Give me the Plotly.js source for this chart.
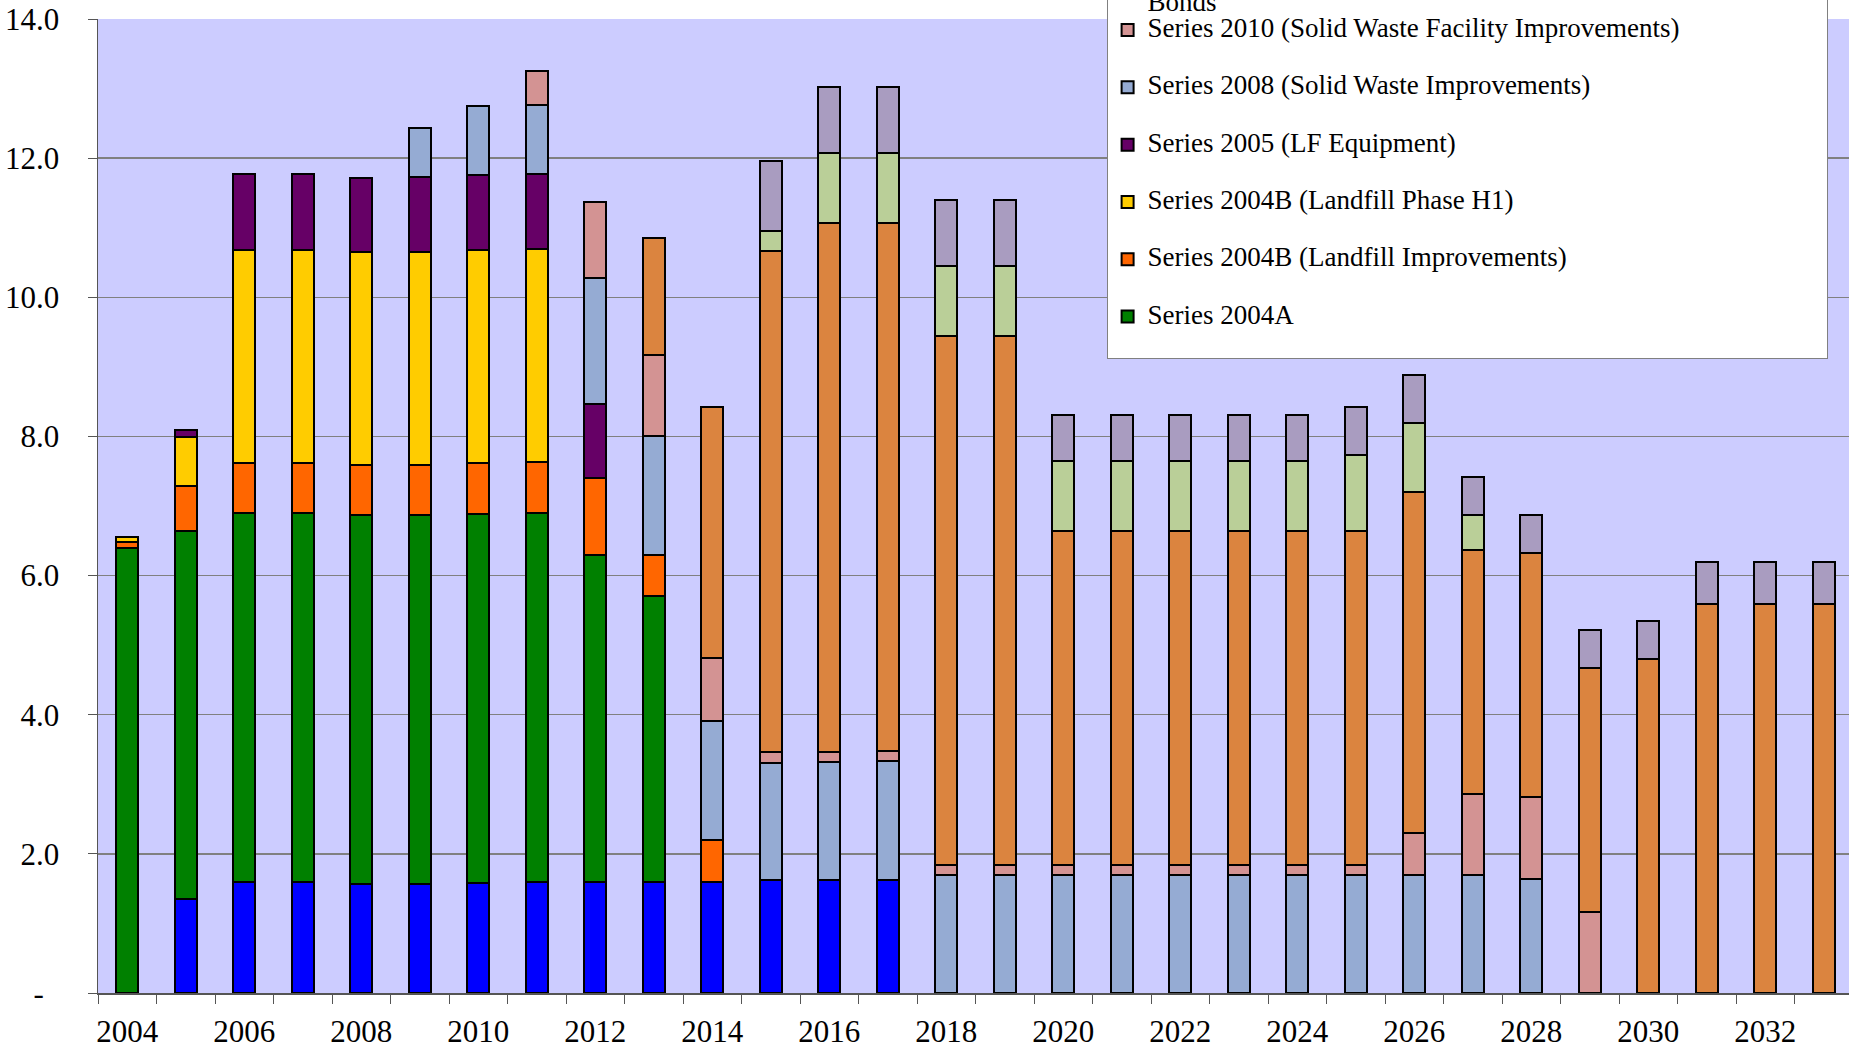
<!DOCTYPE html>
<html>
<head>
<meta charset="utf-8">
<script src="https://cdn.plot.ly/plotly-3.0.1.min.js"></script>
<style>
html,body{margin:0;padding:0;overflow:hidden;width:1849px;height:1049px;background:#ffffff}
#chart{position:absolute;left:0;top:-300px;width:1856px;height:1349px}
</style>
</head>
<body>
<div id="chart"></div>
<script>
// ---- data (values in millions) ----
const years = [2004,2005,2006,2007,2008,2009,2010,2011,2012,2013,2014,2015,2016,2017,2018,2019,
               2020,2021,2022,2023,2024,2025,2026,2027,2028,2029,2030,2031,2032,2033];
const xTickYears = [2004,2006,2008,2010,2012,2014,2016,2018,2020,2022,2024,2026,2028,2030,2032];
const yTickValues = [0,2,4,6,8,10,12,14];
const yTickLabels = ['-\u00a0\u00a0','2.0','4.0','6.0','8.0','10.0','12.0','14.0'];

const existingDebt = [null,1.35,1.59,1.59,1.565,1.57,1.58,1.59,1.60,1.595,1.60,1.62,1.62,1.63,
                      null,null,null,null,null,null,null,null,null,null,null,null,null,null,null,null];
const series2004A = [6.40,5.295,5.305,5.305,5.30,5.30,5.30,5.305,4.70,4.105,
                     null,null,null,null,null,null,null,null,null,null,null,null,null,null,null,null,null,null,null,null];
const series2004BImprovements = [0.08,0.645,0.72,0.72,0.72,0.724,0.733,0.742,1.10,0.60,0.605,
                     null,null,null,null,null,null,null,null,null,null,null,null,null,null,null,null,null,null,null];
const series2004BPhaseH1 = [0.07,0.70,3.07,3.06,3.06,3.06,3.06,3.05,
                     null,null,null,null,null,null,null,null,null,null,null,null,null,null,null,null,null,null,null,null,null,null];
const series2005 = [null,0.10,1.09,1.09,1.075,1.08,1.08,1.08,1.07,
                     null,null,null,null,null,null,null,null,null,null,null,null,null,null,null,null,null,null,null,null,null];
const series2008 = [null,null,null,null,null,0.70,1.00,1.00,1.81,1.70,1.705,1.687,1.70,1.70,
                    1.69,1.69,1.69,1.69,1.69,1.69,1.69,1.69,1.69,1.69,1.645,null,null,null,null,null];
const series2010 = [null,null,null,null,null,null,null,0.48,1.09,1.17,0.90,0.153,0.145,0.145,
                    0.155,0.155,0.155,0.155,0.155,0.155,0.155,0.155,0.61,1.176,1.175,1.17,null,null,null,null];
const futureBondsA = [null,null,null,null,null,null,null,null,null,1.68,3.61,7.20,7.605,7.595,
                      7.60,7.60,4.795,4.795,4.795,4.795,4.795,4.795,4.90,3.50,3.505,3.50,4.80,5.59,5.59,5.59];
const futureBondsB = [null,null,null,null,null,null,null,null,null,null,null,0.30,1.00,1.01,
                      1.00,1.00,1.00,1.00,1.00,1.00,1.00,1.10,1.00,0.50,null,null,null,null,null,null];
const futureBondsC = [null,null,null,null,null,null,null,null,null,null,null,1.00,0.95,0.94,
                      0.95,0.95,0.67,0.67,0.67,0.67,0.67,0.68,0.68,0.55,0.55,0.55,0.55,0.61,0.61,0.61];

// ---- series definitions (bottom of stack first) ----
const big = s => '<span style="font-size:27px">' + s + '</span>';
const seriesList = [
  {name: big('Existing Debt'), values: existingDebt, color: '#0000FF', rank: 1, group: ''},
  {name: big('Series 2004A') + '<br>\u00a0', values: series2004A, color: '#008000', rank: 10, group: ''},
  {name: big('Series 2004B (Landfill Improvements)'), values: series2004BImprovements, color: '#FF6600', rank: 9, group: ''},
  {name: big('Series 2004B (Landfill Phase H1)'), values: series2004BPhaseH1, color: '#FFCC00', rank: 8, group: ''},
  {name: big('Series 2005 (LF Equipment)'), values: series2005, color: '#660066', rank: 7, group: ''},
  {name: big('Series 2008 (Solid Waste Improvements)'), values: series2008, color: '#95ABD3', rank: 6, group: ''},
  {name: big('Series 2010 (Solid Waste Facility Improvements)'), values: series2010, color: '#D39393', rank: 5, group: 'g4'},
  {name: big('Future Series (Landfill Expansion and Facility Improvements)') + '<br>' + big('Bonds'), values: futureBondsA, color: '#DB843F', rank: 4, group: 'g4'},
  {name: big('Future Series B Bonds'), values: futureBondsB, color: '#BACF98', rank: 3, group: ''},
  {name: big('Future Series C Bonds'), values: futureBondsC, color: '#A99CC0', rank: 2, group: ''}
];

const traces = seriesList.map(s => ({
  type: 'bar',
  x: years,
  y: s.values,
  name: s.name,
  legendrank: s.rank,
  legendgroup: s.group,
  marker: {color: s.color, line: {color: '#000000', width: 2}},
  hoverinfo: 'skip'
}));

const serif = 'Liberation Serif, Times New Roman, serif';
const layout = {
  width: 1856,
  height: 1349,
  margin: {l: 98, r: 3, t: 319, b: 56, autoexpand: false},
  paper_bgcolor: '#ffffff',
  plot_bgcolor: '#CCCCFF',
  barmode: 'stack',
  bargap: 0.63,
  showlegend: true,
  hovermode: false,
  font: {family: serif, color: '#000000'},
  xaxis: {
    type: 'linear',
    range: [2003.5, 2033.5],
    tickmode: 'array',
    tickvals: xTickYears,
    ticktext: xTickYears.map(String),
    ticks: '',
    ticklabelstandoff: 10,
    tickfont: {family: serif, size: 31, color: '#000000'},
    showgrid: false,
    zeroline: false,
    showline: true,
    linecolor: '#555555',
    linewidth: 1.5,
    minor: {tickmode: 'linear', tick0: 2003.5, dtick: 1, ticks: 'outside', ticklen: 9,
            tickcolor: '#555555', tickwidth: 1, showgrid: false}
  },
  yaxis: {
    range: [0, 14],
    tickmode: 'array',
    tickvals: yTickValues,
    ticktext: yTickLabels,
    ticks: 'outside',
    ticklen: 9,
    tickcolor: '#555555',
    ticklabelstandoff: 22,
    tickfont: {family: serif, size: 31, color: '#000000'},
    showgrid: true,
    gridcolor: '#808080',
    gridwidth: 1.5,
    zeroline: false,
    showline: true,
    linecolor: '#555555',
    linewidth: 1.5
  },
  legend: {
    x: 0.5747, xanchor: 'left',
    y: 1.2360, yanchor: 'top',
    bgcolor: '#ffffff',
    bordercolor: '#808080',
    borderwidth: 1,
    font: {family: serif, size: 18, color: '#000000'},
    tracegroupgap: 30.9,
    traceorder: 'grouped',
    valign: 'top'
  }
};

Plotly.newPlot('chart', traces, layout, {displayModeBar: false, staticPlot: true});
</script>
</body>
</html>
